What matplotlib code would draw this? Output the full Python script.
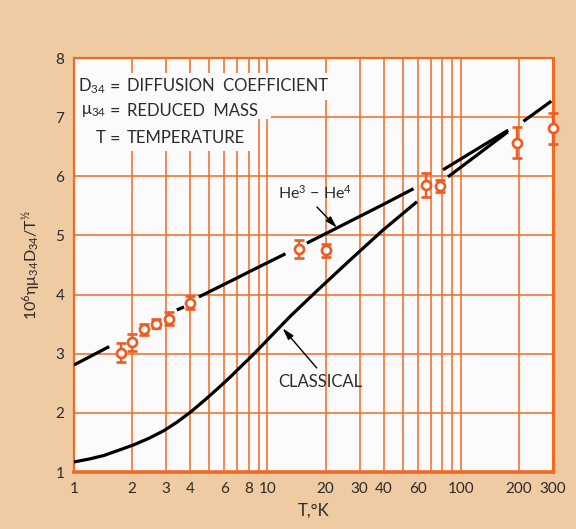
import numpy as np
import matplotlib.pyplot as plt
from matplotlib.patches import Rectangle
from matplotlib.ticker import NullFormatter

plt.rcParams['font.family'] = ['Lato', 'DejaVu Sans']
plt.rcParams['mathtext.fontset'] = 'custom'
plt.rcParams['mathtext.rm'] = 'Lato'
plt.rcParams['mathtext.it'] = 'Lato:italic'
plt.rcParams['mathtext.default'] = 'regular'

nan = np.nan

# measured diffusion data (T in K) with error bars
temp_exp = [1.74, 2.0, 2.3, 2.65, 3.1, 4.0, 14.6, 20, 66, 78, 195, 300]
val_exp = [3.02, 3.19, 3.41, 3.51, 3.59, 3.86, 4.77, 4.75, 5.85, 5.84, 6.57, 6.81]
err_exp = [0.16, 0.15, 0.09, 0.07, 0.11, 0.11, 0.15, 0.11, 0.20, 0.10, 0.26, 0.26]

# He3-He4 curve, broken (nan) where it runs behind the data points
temp_he = [1, 1.52, nan, 3.40, 3.71, nan, 4.42, 6.96, 8.1, 12.4, nan,
           16, 22.7, 39, 57, nan, 81, 176, nan, 211, 294]
val_he = [2.81, 3.12, nan, 3.74, 3.79, nan, 3.96, 4.28, 4.39, 4.69, nan,
          4.87, 5.12, 5.51, 5.79, nan, 6.11, 6.78, nan, 6.93, 7.27]

# classical curve
temp_cl = [1, 1.2, 1.43, 1.71, 2.04, 2.44, 2.92, 3.4, 4.03, 4.76, 5.49,
           6.4, 7.28, 8.3, 9.27, 11.2, 13.2, 18.0, 26.7, 39.6, 59.4, nan,
           85.9, 175]
val_cl = [1.17, 1.22, 1.28, 1.37, 1.46, 1.57, 1.70, 1.84, 2.02, 2.22, 2.40,
          2.60, 2.78, 2.96, 3.12, 3.40, 3.64, 4.06, 4.58, 5.09, 5.57, nan,
          5.99, 6.75]

x_major = [1, 2, 3, 4, 6, 8, 10, 20, 30, 40, 60, 100, 200, 300]
x_minor = [5, 7, 9, 50, 70, 80, 90]
y_ticks = [1, 2, 3, 4, 5, 6, 7, 8]

bg = '#eecba2'
orng = '#f26a22'
dot = '#ee5a1f'
ink = '#2e2a28'

fig = plt.figure(figsize=(5.76, 5.29), dpi=100, facecolor=bg)
ax = fig.add_axes([74 / 576, 57 / 529, 479 / 576, 414 / 529])
ax.set_facecolor('#fcfbfb')

ax.set_xscale('log')
ax.set_xlim(1, 300)
ax.set_ylim(1, 8)
ax.set_xticks(x_major)
ax.set_xticklabels([str(t) for t in x_major])
ax.set_xticks(x_minor, minor=True)
ax.xaxis.set_minor_formatter(NullFormatter())
ax.set_yticks(y_ticks)
ax.set_yticklabels([str(t) for t in y_ticks])
ax.tick_params(which='both', length=0, labelsize=11, pad=7, labelcolor=ink)

ax.set_axisbelow(True)
ax.grid(True, which='both', axis='x', color=orng, lw=1.1)
ax.grid(True, which='major', axis='y', color=orng, lw=1.1)

for side, w in [('left', 1.6), ('top', 1.6), ('right', 2.2), ('bottom', 2.6)]:
    ax.spines[side].set_color(orng)
    ax.spines[side].set_linewidth(w)

# blank patch behind the key text
for x0, y0, w, h in [(0, 0.8986, 0.551, 0.066), (0, 0.8527, 0.411, 0.046),
                     (0, 0.7754, 0.380, 0.078)]:
    ax.add_patch(Rectangle((x0, y0), w, h, transform=ax.transAxes,
                           facecolor='#fcfbfb', edgecolor='none', zorder=1))

ax.plot(temp_he, val_he, color='black', lw=2.3, solid_capstyle='butt',
        solid_joinstyle='round', zorder=3)
ax.plot(temp_cl, val_cl, color='black', lw=2.3, solid_capstyle='butt',
        solid_joinstyle='round', zorder=3)

ax.errorbar(temp_exp, val_exp, yerr=err_exp, fmt='o', color=dot, mfc='white',
            mec=dot, ms=6.5, mew=1.9, elinewidth=1.7, capsize=3.8, capthick=1.9,
            zorder=4, clip_on=False)

# key
key_rows = [(r'D$_{34}$', 'DIFFUSION  COEFFICIENT', 7.52),
            (r'$\mu_{34}$', 'REDUCED  MASS', 7.10),
            ('T', 'TEMPERATURE', 6.64)]
for sym, word, yv in key_rows:
    ax.text(1.46, yv, sym, ha='right', va='center', fontsize=12, color=ink, zorder=5)
    ax.text(1.62, yv, '=', ha='center', va='center', fontsize=13, color=ink, zorder=5)
    ax.text(1.88, yv, word, ha='left', va='center', fontsize=12, color=ink, zorder=5)

# curve labels
ax.text(11.35, 5.72, r'He$^{3}$ $-$ He$^{4}$', ha='left', va='center',
        fontsize=11.5, color=ink, zorder=5)
ax.annotate('', xy=(22.9, 5.13), xytext=(18.05, 5.48),
            arrowprops=dict(arrowstyle='-|>,head_length=0.7,head_width=0.2',
                            color='black', lw=1.0, shrinkA=0, shrinkB=0), zorder=5)
ax.text(11.35, 2.52, 'CLASSICAL', ha='left', va='center',
        fontsize=12, color=ink, zorder=5)
ax.annotate('', xy=(12.0, 3.43), xytext=(18.0, 2.76),
            arrowprops=dict(arrowstyle='-|>,head_length=0.7,head_width=0.2',
                            color='black', lw=1.0, shrinkA=0, shrinkB=0), zorder=5)

ax.set_xlabel('T,°K', fontsize=12, color=ink, labelpad=5)
ax.set_ylabel(r'10$^6\eta\mu_{34}$D$_{34}$/T$^{½}$', fontsize=11.5, color=ink,
              labelpad=9)

fig.savefig('out.png', dpi=100, facecolor=bg)
